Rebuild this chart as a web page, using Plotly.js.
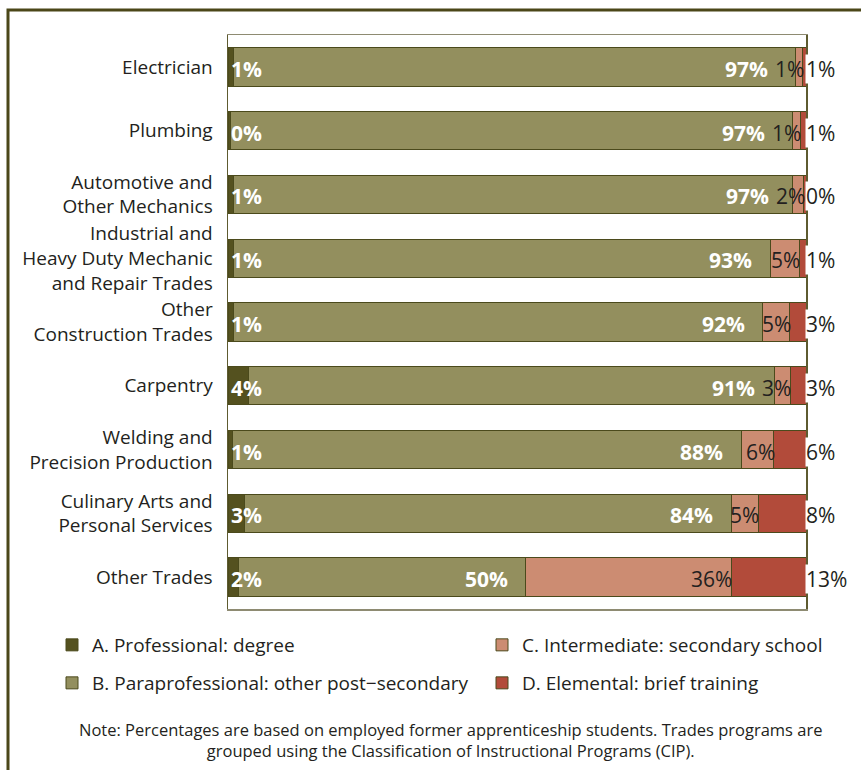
<!DOCTYPE html>
<html>
<head>
<meta charset="utf-8">
<script src="https://cdn.plot.ly/plotly-3.0.1.min.js"></script>
<style>html,body{margin:0;padding:0;background:#fff;}#chart{width:861px;height:770px;}</style>
</head>
<body>
<div id="chart"></div>
<script>
// ---- data ----
var categories = [
  "Electrician",
  "Plumbing",
  "Automotive and<br>Other Mechanics",
  "Industrial and<br>Heavy Duty Mechanic<br>and Repair Trades",
  "Other<br>Construction Trades",
  "Carpentry",
  "Welding and<br>Precision Production",
  "Culinary Arts and<br>Personal Services",
  "Other Trades"
];
var seriesNames = [
  "A. Professional: degree",
  "B. Paraprofessional: other post\u2212secondary",
  "C. Intermediate: secondary school",
  "D. Elemental: brief training"
];
var professional     = [1.0, 0.4, 1.0, 0.9, 0.9, 3.6, 0.8, 2.9, 1.9];
var paraprofessional = [97.2, 97.3, 96.6, 92.9, 91.6, 90.9, 88.0, 84.2, 49.6];
var intermediate     = [1.2, 1.3, 2.0, 5.0, 4.7, 2.8, 5.6, 4.6, 35.6];
var elemental        = [0.6, 1.0, 0.4, 1.2, 2.8, 2.7, 5.6, 8.3, 12.9];

// ---- styling ----
var FONT = "'Open Sans', 'Noto Sans', sans-serif";
var TXT = "#231f20";
var OUTLINE = "#4b4a1c";
var colors = ["#54511f", "#938f5e", "#cc8c72", "#b24b3a"];
var series = [professional, paraprofessional, intermediate, elemental];
var legendIds = ["legend", "legend2", "legend3", "legend4"];
var PLOT_W = 578; // plot area width in px (x range 0..100)

var traces = series.map(function (vals, i) {
  return {
    type: "bar",
    orientation: "h",
    name: seriesNames[i],
    y: categories,
    x: vals,
    legend: legendIds[i],
    marker: { color: colors[i], line: { color: OUTLINE, width: 1 } },
    hoverinfo: "name+x"
  };
});

function pct(v) { return Math.round(v) + "%"; }
function r3(v) { return Math.round(v * 1000) / 1000; }

var annotations = [];
categories.forEach(function (cat, k) {
  var a = professional[k], b = paraprofessional[k], c = intermediate[k], d = elemental[k];
  var endB = r3(a + b), endC = r3(endB + c), endD = r3(endC + d);
  var cPx = c * PLOT_W / 100;
  // A label: white bold at bar start
  annotations.push({ x: 0, y: cat, xref: "x", yref: "y", text: pct(a), showarrow: false,
    xanchor: "left", yanchor: "middle", xshift: 1, yshift: -2,
    font: { family: FONT, size: 21, color: "#ffffff", weight: "bold" } });
  // B label: white bold near end of B segment, kept clear of the C label
  annotations.push({ x: endB, y: cat, xref: "x", yref: "y", text: pct(b), showarrow: false,
    xanchor: "right", yanchor: "middle", xshift: Math.min(-16, cPx - 33), yshift: -2,
    font: { family: FONT, size: 21, color: "#ffffff", weight: "bold" } });
  // C label: dark, right-aligned at C end
  annotations.push({ x: endC, y: cat, xref: "x", yref: "y", text: pct(c), showarrow: false,
    xanchor: "right", yanchor: "middle", xshift: 3, yshift: -2,
    font: { family: FONT, size: 21, color: TXT } });
  // D label: outside the bar, white background
  annotations.push({ x: Math.min(endD, 100), y: cat, xref: "x", yref: "y", text: pct(d), showarrow: false,
    xanchor: "left", yanchor: "middle", xshift: -1, yshift: -2, bgcolor: "#ffffff", borderpad: 0,
    font: { family: FONT, size: 21, color: TXT } });
});

// note
annotations.push({
  xref: "paper", yref: "paper", x: (450 - 228) / 578, y: (609 - 740) / 574,
  xanchor: "center", yanchor: "middle", showarrow: false, align: "center",
  text: "Note: Percentages are based on employed former apprenticeship students. Trades programs are<br>grouped using the Classification of Instructional Programs (CIP).",
  font: { family: FONT, size: 16.5, color: TXT }
});

function legendAt(px, py) {
  return {
    x: (px - 228) / 578, y: (609 - py) / 574, xanchor: "left", yanchor: "top",
    orientation: "v", bgcolor: "rgba(0,0,0,0)", borderwidth: 0,
    font: { family: FONT, size: 19, color: TXT }
  };
}

var layout = {
  width: 861, height: 770,
  margin: { l: 228, r: 55, t: 35, b: 161, autoexpand: false },
  paper_bgcolor: "#ffffff", plot_bgcolor: "#ffffff",
  barmode: "stack", bargap: 0.4,
  font: { family: FONT, color: TXT },
  showlegend: true,
  legend: legendAt(52, 626),
  legend2: legendAt(52, 664),
  legend3: legendAt(482, 626),
  legend4: legendAt(482, 664),
  xaxis: { range: [0, 100], showticklabels: false, showgrid: false, zeroline: false,
    showline: true, mirror: true, linecolor: "#8e8b72", linewidth: 1.5, fixedrange: true },
  yaxis: { autorange: "reversed", showgrid: false, zeroline: false, ticks: "",
    showline: true, mirror: true, linecolor: "#5e5b30", linewidth: 1.5, ticklabelstandoff: 10,
    tickfont: { family: FONT, size: 19, color: TXT }, fixedrange: true },
  annotations: annotations,
  shapes: [{
    type: "rect", xref: "paper", yref: "paper", layer: "below",
    x0: (8 - 228) / 578, x1: (880 - 228) / 578,
    y0: (609 - 800) / 574, y1: (609 - 10) / 574,
    line: { color: "#4b4719", width: 3 }, fillcolor: "rgba(0,0,0,0)"
  }]
};

Plotly.newPlot("chart", traces, layout, { displayModeBar: false, staticPlot: true });
</script>
</body>
</html>
